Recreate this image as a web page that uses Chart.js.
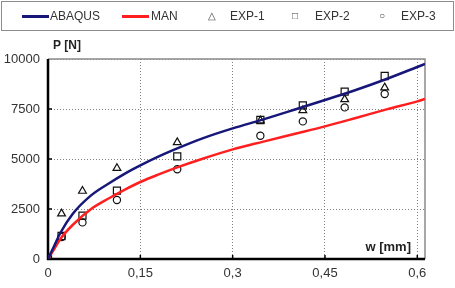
<!DOCTYPE html>
<html>
<head>
<meta charset="utf-8">
<script src="https://cdn.jsdelivr.net/npm/chart.js@4"></script>
<style>
  html, body { margin: 0; padding: 0; background: #fff; }
  #wrap { position: relative; width: 455px; height: 288px; font-family: "Liberation Sans", Arial, sans-serif; }
  #legend { position: absolute; left: 1px; top: 1px; width: 451px; height: 28px; border: 1.5px solid #8c8c8c; }
  .item { position: absolute; top: 0; height: 28px; line-height: 28px; font-size: 12px; color: #333; white-space: nowrap; }
  .swatch { position: absolute; top: 13px; width: 27px; height: 2.5px; }
  .sym { position: absolute; top: 0; font-size: 10px; color: #444; line-height: 28px; }
</style>
</head>
<body>
<div id="wrap">
  <canvas id="chart" width="455" height="288"></canvas>
  <div id="legend"></div>
</div>
<script>
// model curves
const curveW = [0, 0.01, 0.02, 0.04, 0.07, 0.1, 0.125, 0.15, 0.18, 0.21, 0.25, 0.3, 0.35, 0.4, 0.45, 0.5, 0.55, 0.6, 0.6125];
const abaqusP = [0, 650, 1300, 2250, 3180, 3800, 4270, 4680, 5130, 5530, 6020, 6530, 6980, 7460, 7950, 8450, 9000, 9600, 9750];
const manP = [0, 500, 1000, 1700, 2500, 3050, 3470, 3850, 4230, 4580, 5000, 5480, 5870, 6250, 6630, 7050, 7480, 7880, 8000];

// experiments
const expW = [0, 0.022, 0.056, 0.112, 0.21, 0.345, 0.414, 0.482, 0.547];
const exp1P = [0, 2270, 3400, 4540, 5830, 6920, 7430, 7980, 8570];
const exp2P = [0, 1150, 2170, 3420, 5130, 6950, 7680, 8370, 9150];
const exp3P = [0, 1100, 1830, 2950, 4490, 6160, 6880, 7580, 8250];

const xTicks = [0, 0.15, 0.3, 0.45, 0.6];
const yTicks = [0, 2500, 5000, 7500, 10000];

const NAVY = "#17177a";
const RED = "#ff1f1f";
const FONT = "'Liberation Sans', Arial, sans-serif";

function pts(xs, ys) {
  return xs.map((x, i) => ({ x: x, y: ys[i] }));
}

function expSet(label, ys, style, radius) {
  return {
    label: label,
    type: "scatter",
    data: pts(expW, ys),
    pointStyle: style,
    pointRadius: radius,
    borderColor: "#111",
    backgroundColor: "rgba(255,255,255,0)",
    borderWidth: 1.2,
    showLine: false,
  };
}

// legend
const legendItems = [
  { text: "ABAQUS", line: NAVY, left: 20, textLeft: 48 },
  { text: "MAN", line: RED, left: 120, textLeft: 149 },
  { text: "EXP-1", sym: "\u25B3", left: 206, textLeft: 228 },
  { text: "EXP-2", sym: "\u25A1", left: 290, textLeft: 313 },
  { text: "EXP-3", sym: "\u25CB", left: 377, textLeft: 399 },
];
const legendEl = document.getElementById("legend");
legendItems.forEach((it) => {
  if (it.line) {
    legendEl.insertAdjacentHTML("beforeend", `<div class="swatch" style="left:${it.left}px;background:${it.line}"></div>`);
  } else {
    legendEl.insertAdjacentHTML("beforeend", `<div class="sym" style="left:${it.left}px">${it.sym}</div>`);
  }
  legendEl.insertAdjacentHTML("beforeend", `<div class="item" style="left:${it.textLeft}px">${it.text}</div>`);
});

const frame = {
  id: "frame",
  beforeDatasetsDraw(chart) {
    const { ctx, chartArea: a, scales } = chart;
    ctx.save();
    // grey top/right border
    ctx.strokeStyle = "#8c8c8c";
    ctx.lineWidth = 1.5;
    ctx.beginPath();
    ctx.moveTo(a.left, a.top);
    ctx.lineTo(a.right, a.top);
    ctx.lineTo(a.right, a.bottom);
    ctx.stroke();
    // small inner ticks
    ctx.strokeStyle = "#000";
    ctx.lineWidth = 1.5;
    xTicks.slice(1).forEach((v) => {
      const px = scales.x.getPixelForValue(v);
      ctx.beginPath();
      ctx.moveTo(px, a.bottom);
      ctx.lineTo(px, a.bottom - 4);
      ctx.stroke();
    });
    yTicks.slice(1, -1).forEach((v) => {
      const py = scales.y.getPixelForValue(v);
      ctx.beginPath();
      ctx.moveTo(a.left, py);
      ctx.lineTo(a.left + 4, py);
      ctx.stroke();
    });
    // black axes
    ctx.lineWidth = 2.5;
    ctx.beginPath();
    ctx.moveTo(a.left, a.top);
    ctx.lineTo(a.left, a.bottom);
    ctx.lineTo(a.right, a.bottom);
    ctx.stroke();
    // axis titles
    ctx.fillStyle = "#222";
    ctx.font = "bold 12px " + FONT;
    ctx.textBaseline = "middle";
    ctx.textAlign = "left";
    ctx.fillText("P [N]", a.left + 5, a.top - 13);
    ctx.font = "bold 13px " + FONT;
    ctx.textAlign = "right";
    ctx.fillText("w [mm]", a.right - 14, a.bottom - 12);
    ctx.restore();
  },
};

new Chart(document.getElementById("chart"), {
  type: "line",
  data: {
    datasets: [
      {
        label: "ABAQUS",
        data: pts(curveW, abaqusP),
        borderColor: NAVY,
        borderWidth: 2.5,
        pointRadius: 0,
        cubicInterpolationMode: "monotone",
      },
      {
        label: "MAN",
        data: pts(curveW, manP),
        borderColor: RED,
        borderWidth: 2.5,
        pointRadius: 0,
        cubicInterpolationMode: "monotone",
      },
      expSet("EXP-1", exp1P, "triangle", 4.5),
      expSet("EXP-2", exp2P, "rect", 5),
      expSet("EXP-3", exp3P, "circle", 3.6),
    ],
  },
  options: {
    responsive: false,
    animation: false,
    layout: { padding: { left: 0, top: 59, right: 30, bottom: 0 } },
    plugins: { legend: { display: false }, tooltip: { enabled: false } },
    scales: {
      x: {
        type: "linear",
        min: 0,
        max: 0.6125,
        afterFit: (s) => { s.height = 29; },
        afterBuildTicks: (s) => { s.ticks = xTicks.map((v) => ({ value: v })); },
        ticks: {
          font: { family: FONT, size: 13 },
          color: "#333",
          padding: 7,
          maxRotation: 0,
          callback: (v) => String(v).replace(".", ","),
        },
        grid: { color: "#808080", lineWidth: 1, drawTicks: false },
        border: { display: false, dash: [1, 2] },
      },
      y: {
        min: 0,
        max: 10000,
        afterFit: (s) => { s.width = 48; },
        afterBuildTicks: (s) => { s.ticks = yTicks.map((v) => ({ value: v })); },
        ticks: {
          font: { family: FONT, size: 13 },
          color: "#333",
          padding: 8,
          callback: (v) => String(v),
        },
        grid: { color: "#808080", lineWidth: 1, drawTicks: false },
        border: { display: false, dash: [1, 2] },
      },
    },
  },
  plugins: [frame],
});
</script>
</body>
</html>
